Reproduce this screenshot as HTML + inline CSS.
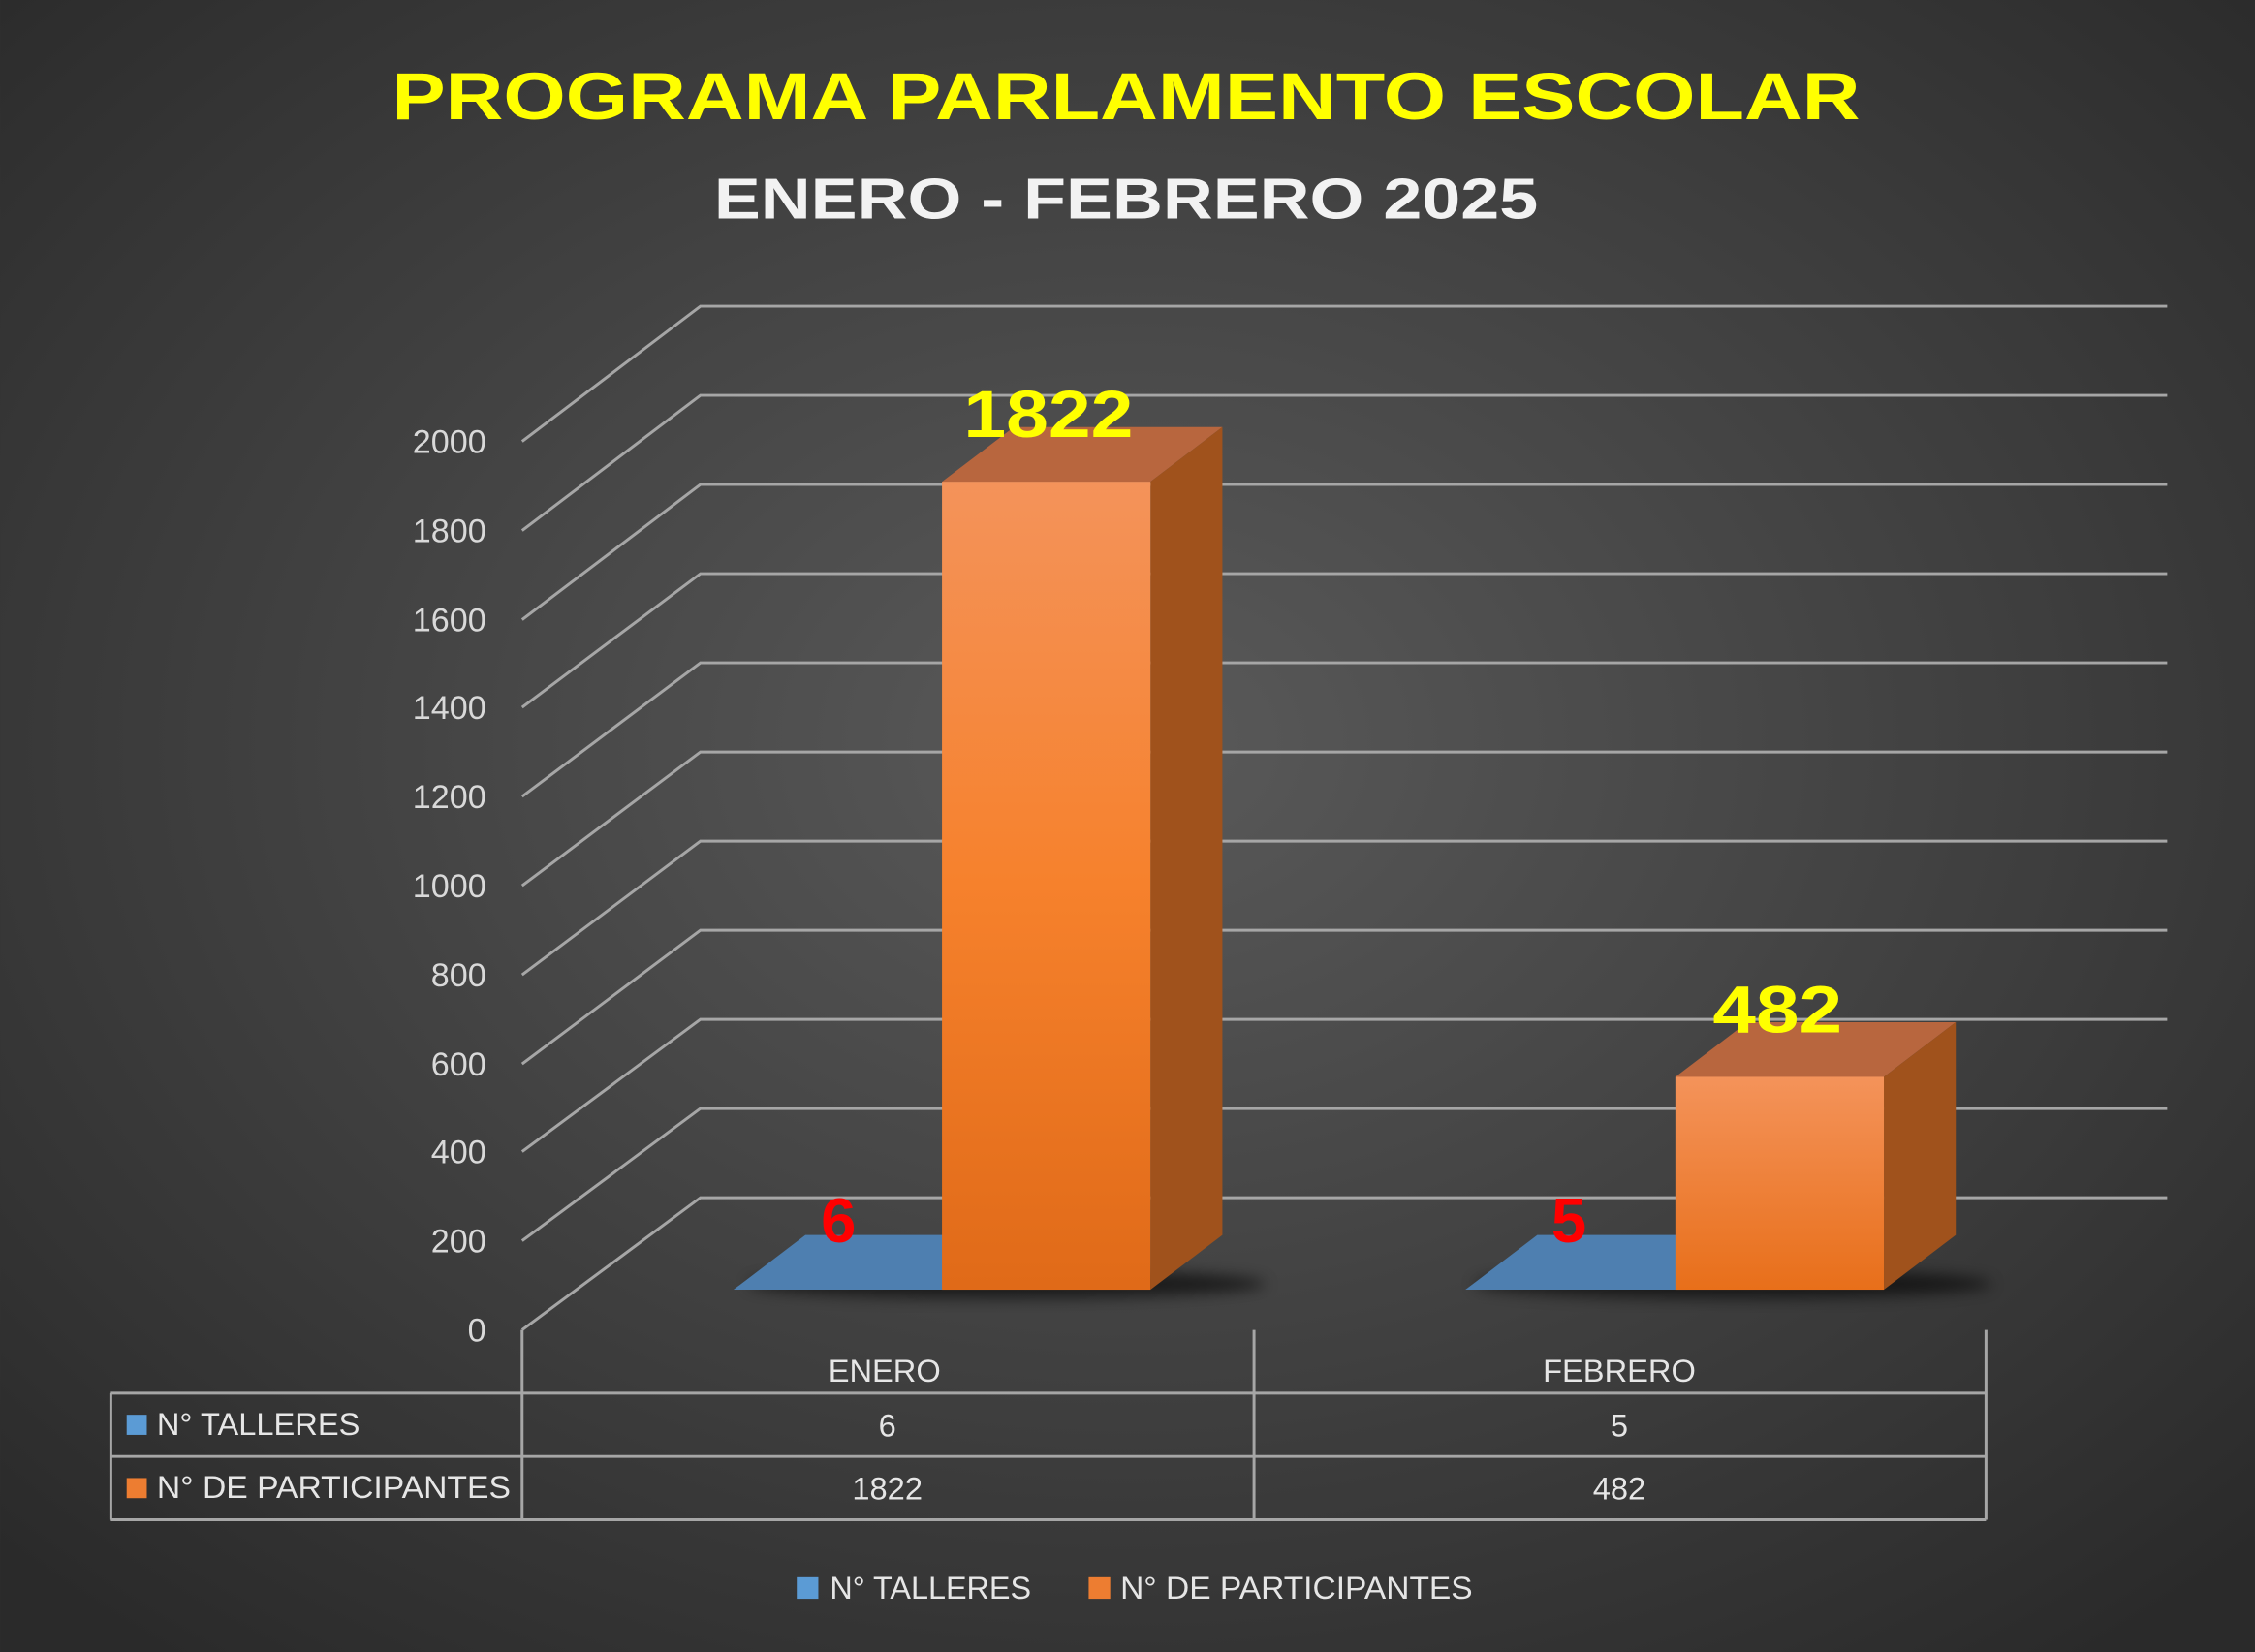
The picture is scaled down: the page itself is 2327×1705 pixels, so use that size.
<!DOCTYPE html>
<html><head><meta charset="utf-8"><style>html,body{margin:0;padding:0;background:#333}svg{display:block}</style></head>
<body>
<svg width="2327" height="1705" viewBox="0 0 1568 1149" xmlns="http://www.w3.org/2000/svg" font-family="Liberation Sans, sans-serif">
<defs>
<radialGradient id="bg" cx="0.5" cy="0.45" r="0.7">
<stop offset="0" stop-color="#5a5a5a"/><stop offset="1" stop-color="#2a2a2a"/>
</radialGradient>
<linearGradient id="of" x1="0" y1="0" x2="0" y2="1"><stop offset="0" stop-color="#f4935a"/><stop offset="0.5" stop-color="#f6812c"/><stop offset="1" stop-color="#e06a18"/></linearGradient>
<linearGradient id="of2" x1="0" y1="0" x2="0" y2="1"><stop offset="0" stop-color="#f4935a"/><stop offset="1" stop-color="#e86f1a"/></linearGradient>
<filter id="sh" x="-20%" y="-50%" width="140%" height="200%"><feGaussianBlur stdDeviation="5"/></filter>
</defs>
<rect width="1568" height="1149" fill="url(#bg)"/>
<text x="783" y="83" text-anchor="middle" font-size="46" font-weight="bold" fill="#ffff00" textLength="1021" lengthAdjust="spacingAndGlyphs">PROGRAMA PARLAMENTO ESCOLAR</text>
<text x="783" y="152" text-anchor="middle" font-size="40" font-weight="bold" fill="#f2f2f2" textLength="573" lengthAdjust="spacingAndGlyphs">ENERO - FEBRERO 2025</text>
<g stroke="#a6a6a6" stroke-width="2" fill="none">
<path d="M363,307 L487,213 H1507 M363,369 L487,275 H1507 M363,431 L487,337 H1507 M363,492 L487,399 H1507 M363,554 L487,461 H1507 M363,616 L487,523 H1507 M363,678 L487,585 H1507 M363,740 L487,647 H1507 M363,801 L487,709 H1507 M363,863 L487,771 H1507 M363,925 L487,833 H1507"/>
</g>
<g fill="#d9d9d9" font-size="23" text-anchor="end">
<text x="338" y="315">2000</text><text x="338" y="377">1800</text><text x="338" y="439">1600</text><text x="338" y="500">1400</text><text x="338" y="562">1200</text><text x="338" y="624">1000</text><text x="338" y="686">800</text><text x="338" y="748">600</text><text x="338" y="809">400</text><text x="338" y="871">200</text><text x="338" y="933">0</text>
</g>
<ellipse cx="700" cy="893" rx="180" ry="10" fill="#000" opacity="0.6" filter="url(#sh)"/>
<ellipse cx="1205" cy="893" rx="180" ry="10" fill="#000" opacity="0.6" filter="url(#sh)"/>
<polygon points="510,897 655,897 705,859 560,859" fill="#4e7fb0"/>
<polygon points="655,335 800,335 850,297 705,297" fill="#b8663e"/>
<polygon points="800,335 850,297 850,859 800,897" fill="#a0521c"/>
<rect x="655" y="335" width="145" height="562" fill="url(#of)"/>
<polygon points="1019,897 1165,897 1215,859 1069,859" fill="#4e7fb0"/>
<polygon points="1165,749 1310,749 1360,711 1215,711" fill="#b8663e"/>
<polygon points="1310,749 1360,711 1360,859 1310,897" fill="#a0521c"/>
<rect x="1165" y="749" width="145" height="148" fill="url(#of2)"/>
<g font-weight="bold" text-anchor="middle">
<text x="729" y="304" font-size="46" fill="#ffff00" textLength="118" lengthAdjust="spacingAndGlyphs">1822</text>
<text x="1236" y="718" font-size="46" fill="#ffff00" textLength="90" lengthAdjust="spacingAndGlyphs">482</text>
<text x="583" y="864" font-size="44" fill="#ff0000">6</text>
<text x="1091" y="864" font-size="44" fill="#ff0000">5</text>
</g>
<g stroke="#a6a6a6" stroke-width="2" fill="none">
<path d="M77,969 H1381 M77,1013 H1381 M77,1057 H1381 M77,969 V1057 M363,925 V1057 M872,925 V1057 M1381,925 V1057"/>
</g>
<g fill="#e6e6e6" font-size="22">
<text x="615" y="961" text-anchor="middle">ENERO</text>
<text x="1126" y="961" text-anchor="middle">FEBRERO</text>
<rect x="88" y="984" width="14" height="14" fill="#5b9bd5"/>
<text x="109" y="998">N° TALLERES</text>
<text x="617" y="999" text-anchor="middle">6</text>
<text x="1126" y="999" text-anchor="middle">5</text>
<rect x="88" y="1028" width="14" height="14" fill="#ed7d31"/>
<text x="109" y="1042" textLength="246" lengthAdjust="spacingAndGlyphs">N° DE PARTICIPANTES</text>
<text x="617" y="1043" text-anchor="middle">1822</text>
<text x="1126" y="1043" text-anchor="middle">482</text>
<rect x="554" y="1097" width="15" height="15" fill="#5b9bd5"/>
<text x="577" y="1112" textLength="140" lengthAdjust="spacingAndGlyphs">N° TALLERES</text>
<rect x="757" y="1097" width="15" height="15" fill="#ed7d31"/>
<text x="779" y="1112" textLength="245" lengthAdjust="spacingAndGlyphs">N° DE PARTICIPANTES</text>
</g>
</svg>
</body></html>
